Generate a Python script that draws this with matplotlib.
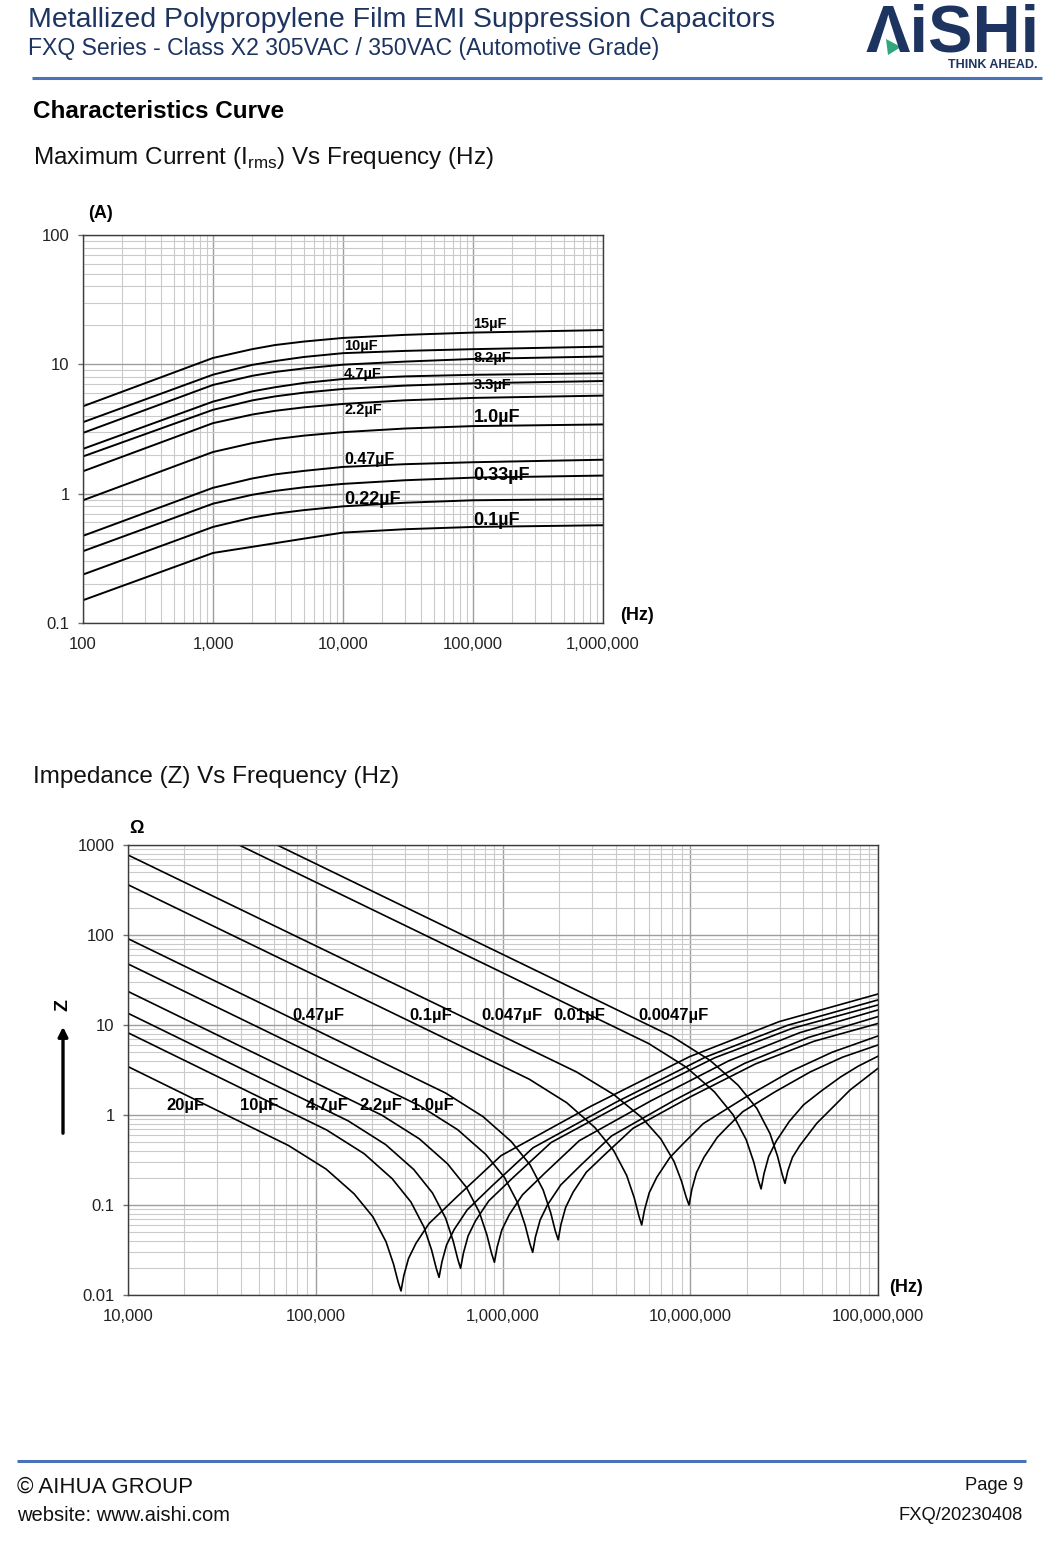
import numpy as np
import matplotlib
matplotlib.use("Agg")
import matplotlib.pyplot as plt
from matplotlib.lines import Line2D
from matplotlib.patches import Polygon, FancyArrowPatch
from matplotlib.ticker import LogLocator, NullFormatter

plt.rcParams['font.family'] = ['Liberation Sans', 'DejaVu Sans']
plt.rcParams['mathtext.fontset'] = 'custom'
plt.rcParams['mathtext.rm'] = 'Liberation Sans'

W, H = 1060, 1563
NAVY = '#1d3461'
RULE = '#4a72b8'
NARROW = ['Liberation Sans Narrow', 'Liberation Sans', 'DejaVu Sans']

# =========================
# Maximum current (A) vs frequency (Hz)
# =========================
cur_freq = [100, 1000, 2000, 3000, 5000, 10000, 30000, 100000, 1000000]
irms_15uF = [4.74, 11.2, 13.1, 14.1, 15.0, 16.0, 16.9, 17.6, 18.4]
irms_10uF = [3.57, 8.32, 9.9, 10.6, 11.4, 12.2, 12.7, 13.1, 13.7]
irms_8u2F = [2.95, 6.93, 8.15, 8.73, 9.3, 9.94, 10.5, 11.0, 11.5]
irms_4u7F = [2.22, 5.15, 6.18, 6.65, 7.18, 7.7, 8.07, 8.3, 8.52]
irms_3u3F = [1.94, 4.45, 5.26, 5.65, 6.04, 6.45, 6.85, 7.13, 7.43]
irms_2u2F = [1.49, 3.51, 4.09, 4.37, 4.65, 4.94, 5.27, 5.5, 5.73]
irms_1u0F = [0.889, 2.10, 2.46, 2.64, 2.81, 2.99, 3.19, 3.33, 3.43]
irms_0u47F = [0.472, 1.11, 1.31, 1.41, 1.50, 1.61, 1.69, 1.75, 1.83]
irms_0u33F = [0.359, 0.837, 0.98, 1.05, 1.12, 1.19, 1.27, 1.33, 1.38]
irms_0u22F = [0.237, 0.553, 0.653, 0.70, 0.746, 0.798, 0.851, 0.889, 0.91]
irms_0u1F = [0.150, 0.348, 0.388, 0.414, 0.449, 0.50, 0.531, 0.553, 0.570]

cur_labels = ['15µF', '10µF', '8.2µF', '4.7µF', '3.3µF', '2.2µF',
              '1.0µF', '0.47µF', '0.33µF', '0.22µF', '0.1µF']
cur_label_x = [1.01e5, 1.02e4, 1.01e5, 1.02e4, 1.01e5, 1.02e4,
               1.01e5, 1.02e4, 1.01e5, 1.02e4, 1.01e5]
cur_label_y = [20.5, 13.9, 11.2, 8.4, 6.9, 4.43, 3.85, 1.85, 1.39, 0.908, 0.625]
cur_label_size = [10.5, 10.5, 10.5, 10.5, 10.5, 10.5, 13, 11.5, 13, 13, 13]

cur_xticks = [100, 1000, 10000, 100000, 1000000]
cur_xlabels = ['100', '1,000', '10,000', '100,000', '1,000,000']
cur_yticks = [0.1, 1, 10, 100]
cur_ylabels = ['0.1', '1', '10', '100']

# =========================
# Impedance (ohm) vs frequency (Hz)
# =========================
imp_20uF_f = [1e4, 7.18e4, 1.138e5, 1.607e5, 2.023e5, 2.377e5, 2.606e5, 2.761e5, 2.858e5, 2.958e5,
              3.133e5, 3.436e5, 4.036e5, 5.715e5, 9.75e5, 2.94e6, 9.89e6, 2.97e7, 1e8]
imp_20uF_z = [3.45, 0.458, 0.251, 0.133, 0.0740, 0.0391, 0.0221, 0.0139, 0.0111, 0.0164,
              0.0254, 0.0376, 0.0624, 0.125, 0.353, 1.25, 4.45, 10.9, 22.1]
imp_10uF_f = [1e4, 1.146e5, 1.816e5, 2.564e5, 3.228e5, 3.793e5, 4.159e5, 4.406e5, 4.56e5, 4.721e5,
              5.0e5, 5.483e5, 6.442e5, 8.85e5, 1.445e6, 3.963e6, 1.202e7, 3.296e7, 1e8]
imp_10uF_z = [8.2, 0.682, 0.372, 0.196, 0.108, 0.0566, 0.0317, 0.0198, 0.0157, 0.0232,
              0.0360, 0.0532, 0.0883, 0.167, 0.432, 1.37, 4.40, 9.93, 19.0]
imp_4u7F_f = [1e4, 1.493e5, 2.366e5, 3.342e5, 4.207e5, 4.943e5, 5.420e5, 5.741e5, 5.94e5, 6.152e5,
              6.516e5, 7.145e5, 8.395e5, 1.135e6, 1.803e6, 4.688e6, 1.343e7, 3.491e7, 1e8]
imp_4u7F_z = [13.5, 0.861, 0.469, 0.248, 0.136, 0.0714, 0.0400, 0.0249, 0.0198, 0.0293,
              0.0454, 0.0671, 0.111, 0.203, 0.494, 1.45, 4.31, 9.18, 16.7]
imp_2u2F_f = [1e4, 2.259e5, 3.581e5, 5.058e5, 6.368e5, 7.482e5, 8.204e5, 8.690e5, 9.0e5, 9.311e5,
              9.863e5, 1.081e6, 1.271e6, 1.671e6, 2.553e6, 6.124e6, 1.600e7, 3.828e7, 1e8]
imp_2u2F_z = [23.6, 0.995, 0.543, 0.287, 0.158, 0.0830, 0.0466, 0.0290, 0.0231, 0.0342,
              0.0530, 0.0783, 0.130, 0.226, 0.519, 1.43, 4.00, 8.22, 14.7]
imp_1u0F_f = [1e4, 3.614e5, 5.728e5, 8.091e5, 1.019e6, 1.197e6, 1.312e6, 1.390e6, 1.44e6, 1.489e6,
              1.578e6, 1.730e6, 2.032e6, 2.600e6, 3.793e6, 8.260e6, 1.945e7, 4.246e7, 1e8]
imp_1u0F_z = [47.7, 1.259, 0.687, 0.365, 0.202, 0.106, 0.0597, 0.0374, 0.0298, 0.0441,
              0.0682, 0.101, 0.167, 0.277, 0.585, 1.47, 3.75, 7.26, 12.4]
imp_0u47F_f = [1e4, 4.943e5, 7.834e5, 1.107e6, 1.393e6, 1.637e6, 1.795e6, 1.901e6, 1.97e6, 2.037e6,
               2.158e6, 2.366e6, 2.780e6, 3.483e6, 4.932e6, 1.009e7, 2.218e7, 4.550e7, 1e8]
imp_0u47F_z = [91, 1.754, 0.957, 0.507, 0.280, 0.147, 0.0824, 0.0515, 0.041, 0.0607,
               0.0940, 0.139, 0.231, 0.362, 0.711, 1.61, 3.69, 6.59, 10.4]
imp_0u1F_f = [1e4, 1.380e6, 2.188e6, 3.090e6, 3.890e6, 4.571e6, 5.012e6, 5.309e6, 5.49e6, 5.689e6,
              6.026e6, 6.607e6, 7.762e6, 9.120e6, 1.169e7, 1.950e7, 3.420e7, 5.702e7, 1e8]
imp_0u1F_z = [362, 2.50, 1.368, 0.726, 0.403, 0.212, 0.120, 0.0752, 0.060, 0.0887,
              0.137, 0.203, 0.337, 0.478, 0.802, 1.56, 3.05, 4.99, 7.55]
imp_0u047F_f = [1e4, 2.466e6, 3.908e6, 5.521e6, 6.950e6, 8.166e6, 8.954e6, 9.484e6, 9.82e6, 1.016e7,
                1.076e7, 1.180e7, 1.387e7, 1.570e7, 1.901e7, 2.825e7, 4.365e7, 6.471e7, 1e8]
imp_0u047F_z = [774, 3.01, 1.679, 0.929, 0.541, 0.305, 0.184, 0.122, 0.100, 0.148,
                0.229, 0.339, 0.562, 0.735, 1.089, 1.81, 3.02, 4.39, 6.0]
imp_0u01F_f = [3.91e4, 5.984e6, 9.484e6, 1.340e7, 1.687e7, 1.982e7, 2.173e7, 2.301e7, 2.38e7,
               2.466e7, 2.612e7, 2.864e7, 3.365e7, 4.009e7, 4.977e7, 6.324e7, 7.870e7, 1e8]
imp_0u01F_z = [1000, 6.22, 3.40, 1.811, 1.005, 0.531, 0.301, 0.189, 0.151,
               0.223, 0.346, 0.512, 0.849, 1.297, 1.845, 2.65, 3.50, 4.5]
imp_0u0047F_f = [6.24e4, 8.017e6, 1.271e7, 1.795e7, 2.259e7, 2.655e7, 2.911e7, 3.083e7, 3.19e7,
                 3.304e7, 3.499e7, 3.828e7, 4.710e7, 7.096e7, 1e8]
imp_0u0047F_z = [1000, 7.41, 4.05, 2.14, 1.183, 0.621, 0.349, 0.219, 0.174,
                 0.240, 0.339, 0.457, 0.807, 1.897, 3.3]

imp_top_labels = ['0.47µF', '0.1µF', '0.047µF', '0.01µF', '0.0047µF']
imp_top_x = [7.51e4, 3.15e5, 7.64e5, 1.849e6, 5.25e6]
imp_low_labels = ['20µF', '10µF', '4.7µF', '2.2µF', '1.0µF']
imp_low_x = [1.596e4, 3.95e4, 8.89e4, 1.706e5, 3.23e5]

imp_xticks = [1e4, 1e5, 1e6, 1e7, 1e8]
imp_xlabels = ['10,000', '100,000', '1,000,000', '10,000,000', '100,000,000']
imp_yticks = [0.01, 0.1, 1, 10, 100, 1000]
imp_ylabels = ['0.01', '0.1', '1', '10', '100', '1000']


fig = plt.figure(figsize=(W / 100, H / 100), dpi=100, facecolor='white')


def fx(x):
    return x / W


def fy(y):
    return 1 - y / H


def page_text(x, y, s, **kw):
    fig.text(fx(x), fy(y), s, **kw)


def rule(x0, x1, y, lw):
    fig.add_artist(Line2D([fx(x0), fx(x1)], [fy(y), fy(y)], transform=fig.transFigure,
                          color=RULE, lw=lw, solid_capstyle='butt'))


def log_axes(x0, y0, x1, y1):
    ax = fig.add_axes([fx(x0), fy(y1), (x1 - x0) / W, (y1 - y0) / H])
    ax.set_xscale('log')
    ax.set_yscale('log')
    for s in ax.spines.values():
        s.set_color('#3c3c3c')
        s.set_linewidth(1.0)
    for axis in (ax.xaxis, ax.yaxis):
        axis.set_minor_locator(LogLocator(base=10, subs=np.arange(2, 10), numticks=50))
        axis.set_minor_formatter(NullFormatter())
    ax.grid(True, which='major', color='#9e9e9e', lw=1.0)
    ax.grid(True, which='minor', color='#cacaca', lw=0.8)
    ax.set_axisbelow(True)
    ax.tick_params(which='minor', length=0)
    ax.tick_params(axis='y', which='major', length=3.6, width=1, color='#707070', pad=6,
                   labelsize=12, labelcolor='#222222')
    ax.tick_params(axis='x', which='major', length=0, pad=10, labelsize=12, labelcolor='#222222')
    return ax


# =========================
# HEADER
# =========================
page_text(28, 27, 'Metallized Polypropylene Film EMI Suppression Capacitors',
          fontsize=20.5, color=NAVY, va='baseline')
page_text(28, 55, 'FXQ Series - Class X2 305VAC / 350VAC (Automotive Grade)',
          fontsize=16.6, color=NAVY, va='baseline')
page_text(866, 52, 'ΛiSHi', fontsize=48, fontweight='bold', color=NAVY, va='baseline')
fig.add_artist(Polygon([(fx(886), fy(39)), (fx(888), fy(55)), (fx(901), fy(47))],
                       closed=True, transform=fig.transFigure, color='#2fa77a', lw=0))
page_text(1038, 68, 'THINK AHEAD.', fontsize=9, fontweight='bold', color=NAVY,
          va='baseline', ha='right')
rule(32, 1042, 78, 2.2)

page_text(33, 118, 'Characteristics Curve', fontsize=17.5, fontweight='bold', va='baseline')
page_text(33, 164, r'Maximum Current (I$_{\mathrm{rms}}$) Vs Frequency (Hz)', fontsize=17.5,
          va='baseline', color='#111111')
page_text(33, 783, 'Impedance (Z) Vs Frequency (Hz)', fontsize=17.5, va='baseline',
          color='#111111')

# =========================
# TOP CHART
# =========================
ax1 = log_axes(83, 235, 603, 623)
ax1.set_xlim(100, 1e6)
ax1.set_ylim(0.1, 100)
ax1.set_xticks(cur_xticks, cur_xlabels)
ax1.set_yticks(cur_yticks, cur_ylabels)

cur_series = [irms_15uF, irms_10uF, irms_8u2F, irms_4u7F, irms_3u3F, irms_2u2F,
              irms_1u0F, irms_0u47F, irms_0u33F, irms_0u22F, irms_0u1F]
for vals in cur_series:
    ax1.plot(cur_freq, vals, color='black', lw=1.4, solid_joinstyle='round')

for lab, x, y, s in zip(cur_labels, cur_label_x, cur_label_y, cur_label_size):
    ax1.text(x, y, lab, fontsize=s, fontweight='bold', family=NARROW, va='center', ha='left')

page_text(100, 214, '(A)', fontsize=13, fontweight='bold', ha='center', va='center')
page_text(637, 615, '(Hz)', fontsize=13, fontweight='bold', ha='center', va='center')

# =========================
# BOTTOM CHART
# =========================
ax2 = log_axes(128, 845, 878, 1295)
ax2.set_xlim(1e4, 1e8)
ax2.set_ylim(0.01, 1000)
ax2.set_xticks(imp_xticks, imp_xlabels)
ax2.set_yticks(imp_yticks, imp_ylabels)

imp_series = [(imp_20uF_f, imp_20uF_z), (imp_10uF_f, imp_10uF_z), (imp_4u7F_f, imp_4u7F_z),
              (imp_2u2F_f, imp_2u2F_z), (imp_1u0F_f, imp_1u0F_z), (imp_0u47F_f, imp_0u47F_z),
              (imp_0u1F_f, imp_0u1F_z), (imp_0u047F_f, imp_0u047F_z),
              (imp_0u01F_f, imp_0u01F_z), (imp_0u0047F_f, imp_0u0047F_z)]
for f, z in imp_series:
    ax2.plot(f, z, color='black', lw=1.2, solid_joinstyle='round')

for lab, x in zip(imp_top_labels, imp_top_x):
    ax2.text(x, 12.6, lab, fontsize=12, fontweight='bold', family=NARROW, va='center', ha='left')
for lab, x in zip(imp_low_labels, imp_low_x):
    ax2.text(x, 1.26, lab, fontsize=12, fontweight='bold', family=NARROW, va='center', ha='left')

page_text(136, 829, 'Ω', fontsize=13, fontweight='bold', ha='center', va='center')
page_text(906, 1288, '(Hz)', fontsize=13, fontweight='bold', ha='center', va='center')
page_text(63, 1005, 'Z', fontsize=14, fontweight='bold', ha='center', va='center', rotation=90)
fig.add_artist(FancyArrowPatch((fx(63), fy(1136)), (fx(63), fy(1024)),
                               transform=fig.transFigure, arrowstyle='-|>',
                               mutation_scale=14, lw=2.4, color='black'))

# =========================
# FOOTER
# =========================
rule(17, 1026, 1461, 2.2)
page_text(17, 1493, '© AIHUA GROUP', fontsize=16, va='baseline', color='#111111')
page_text(17, 1521, 'website: www.aishi.com', fontsize=14.5, va='baseline', color='#111111')
page_text(1023, 1490, 'Page 9', fontsize=13.2, va='baseline', ha='right', color='#111111')
page_text(1023, 1520, 'FXQ/20230408', fontsize=13.2, va='baseline', ha='right', color='#111111')

fig.savefig('out.png', dpi=100, facecolor='white')
